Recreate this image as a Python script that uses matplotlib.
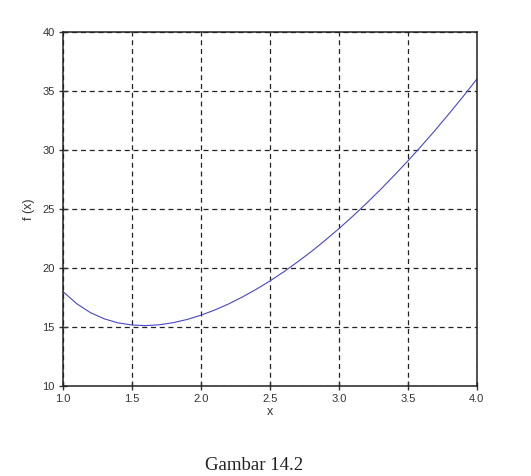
import matplotlib.pyplot as plt

# values
x_vals = [1.0, 1.1, 1.2, 1.3, 1.4, 1.5, 1.6, 1.7, 1.8, 1.9, 2.0,
          2.1, 2.2, 2.3, 2.4, 2.5, 2.6, 2.7, 2.8, 2.9, 3.0,
          3.1, 3.2, 3.3, 3.4, 3.5, 3.6, 3.7, 3.8, 3.9, 4.0]
f_vals = [18.00, 16.97, 16.21, 15.69, 15.35, 15.17, 15.12, 15.19, 15.37, 15.64, 16.00,
          16.44, 16.95, 17.54, 18.19, 18.90, 19.67, 20.51, 21.39, 22.34, 23.33,
          24.38, 25.48, 26.63, 27.83, 29.07, 30.36, 31.70, 33.09, 34.52, 36.00]
x_ticks = [1.0, 1.5, 2.0, 2.5, 3.0, 3.5, 4.0]
y_ticks = [10, 15, 20, 25, 30, 35, 40]

plt.rcParams['font.family'] = ['Liberation Sans', 'DejaVu Sans']

fig = plt.figure(figsize=(5.31, 4.76), dpi=100)
ax = fig.add_axes([0.1186, 0.189, 0.7794, 0.744])

ax.plot(x_vals, f_vals, color='#4848c8', linewidth=0.8)

ax.set_xlim(1.0, 4.0)
ax.set_ylim(10, 40)
ax.set_xticks(x_ticks)
ax.set_yticks(y_ticks)
ax.set_xticklabels(['%.1f' % t for t in x_ticks])
ax.tick_params(direction='inout', length=6, width=1, labelsize=8, colors='#333333', pad=3)
ax.grid(True, color='#222222', linestyle=(0, (4, 3)), linewidth=0.9)

for sp in ax.spines.values():
    sp.set_linewidth(1.1)
    sp.set_color('#222222')
    sp.set_zorder(3)

ax.set_xlabel('x', fontsize=9, labelpad=1, color='#333333')
ax.set_ylabel('f (x)', fontsize=9, labelpad=5, color='#333333')

fig.text(0.478, 0.013, 'Gambar 14.2', ha='center', va='baseline', fontsize=13.5,
         family=['Liberation Serif', 'DejaVu Serif'], color='#222222')

fig.savefig('out.png', dpi=100)
